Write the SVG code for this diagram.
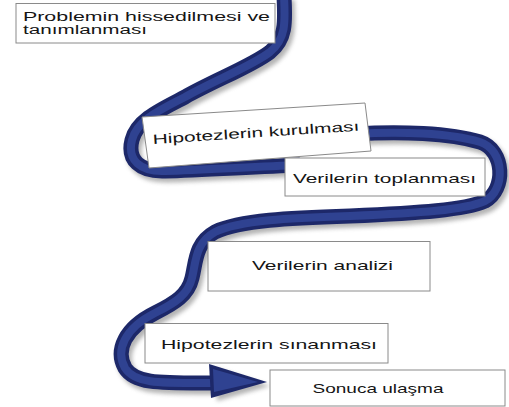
<svg xmlns="http://www.w3.org/2000/svg" width="509" height="407" viewBox="0 0 509 407">
<style>
.box{fill:#fff;stroke:#8a8a8a;stroke-width:1}
.t{font-family:"Liberation Sans",Arial,sans-serif;font-size:13.5px;fill:#151515}
.t1{font-size:12px}
.rib{fill:none;stroke-linecap:butt;stroke-linejoin:round}
</style>
<defs>
<filter id="blur" x="-10%" y="-10%" width="120%" height="120%"><feGaussianBlur stdDeviation="2.2"/></filter>
<path id="ribA" d="M 284 -4 C 285 20, 287 38, 270 52 C 252 66, 215 80, 185 97 C 160 110, 137 120, 132 140 C 127 160, 140 172, 165 171 C 200 170, 250 167, 300 165"/>
<path id="ribB" d="M 355 134 C 400 131, 450 133, 480 142 C 505 150, 506 190, 485 201 C 465 210, 420 213, 350 216 C 290 218, 240 220, 215 232 C 195 243, 196 262, 192 278 C 188 295, 175 303, 155 313 C 125 328, 115 350, 125 368 C 135 384, 160 383, 212 383"/>
</defs>
<rect width="509" height="407" fill="#fff"/>
<g id="connectors">
<g filter="url(#blur)" opacity="0.55" transform="translate(3,4)">
<use href="#ribA" class="rib" stroke="#777" stroke-width="15"/>
<use href="#ribB" class="rib" stroke="#777" stroke-width="15"/>
<polygon points="212,364 267,382 214,397" fill="#777"/>
</g>
<use href="#ribA" class="rib" stroke="#1d2869" stroke-width="15"/>
<use href="#ribB" class="rib" stroke="#1d2869" stroke-width="15"/>
<use href="#ribA" class="rib" stroke="#2f4291" stroke-width="8"/>
<use href="#ribB" class="rib" stroke="#2f4291" stroke-width="8"/>
<polygon points="209,364 267,382 211,398" fill="#1d2869"/>
<polygon points="213,369 258,382 214,392" fill="#2f4291"/>
</g>
<g id="n1">
<rect class="box" x="16" y="3.5" width="259" height="39.5"/>
<text class="t t1" x="23" y="20.5" textLength="247" lengthAdjust="spacingAndGlyphs">Problemin hissedilmesi ve</text>
<text class="t t1" x="23" y="34" textLength="124" lengthAdjust="spacingAndGlyphs">tanımlanması</text>
</g>
<g id="n2">
<polygon class="box" points="142,117 365,103 371,151 149,168"/>
<text class="t" x="153" y="144" textLength="207" lengthAdjust="spacingAndGlyphs" transform="rotate(-3.7 153 144)">Hipotezlerin kurulması</text>
</g>
<g id="n3">
<rect class="box" x="285" y="158" width="200" height="38"/>
<text class="t" x="293" y="183" textLength="183" lengthAdjust="spacingAndGlyphs">Verilerin toplanması</text>
</g>
<g id="n4">
<rect class="box" x="208" y="241.5" width="222" height="49.5"/>
<text class="t" x="252" y="269.5" textLength="141" lengthAdjust="spacingAndGlyphs">Verilerin analizi</text>
</g>
<g id="n5">
<rect class="box" x="145" y="323.5" width="243" height="39.5"/>
<text class="t" x="161" y="348.5" textLength="216" lengthAdjust="spacingAndGlyphs">Hipotezlerin sınanması</text>
</g>
<g id="n6">
<rect class="box" x="270" y="370" width="235" height="36"/>
<text class="t" x="312.5" y="392.7" textLength="131" lengthAdjust="spacingAndGlyphs">Sonuca ulaşma</text>
</g>
</svg>
